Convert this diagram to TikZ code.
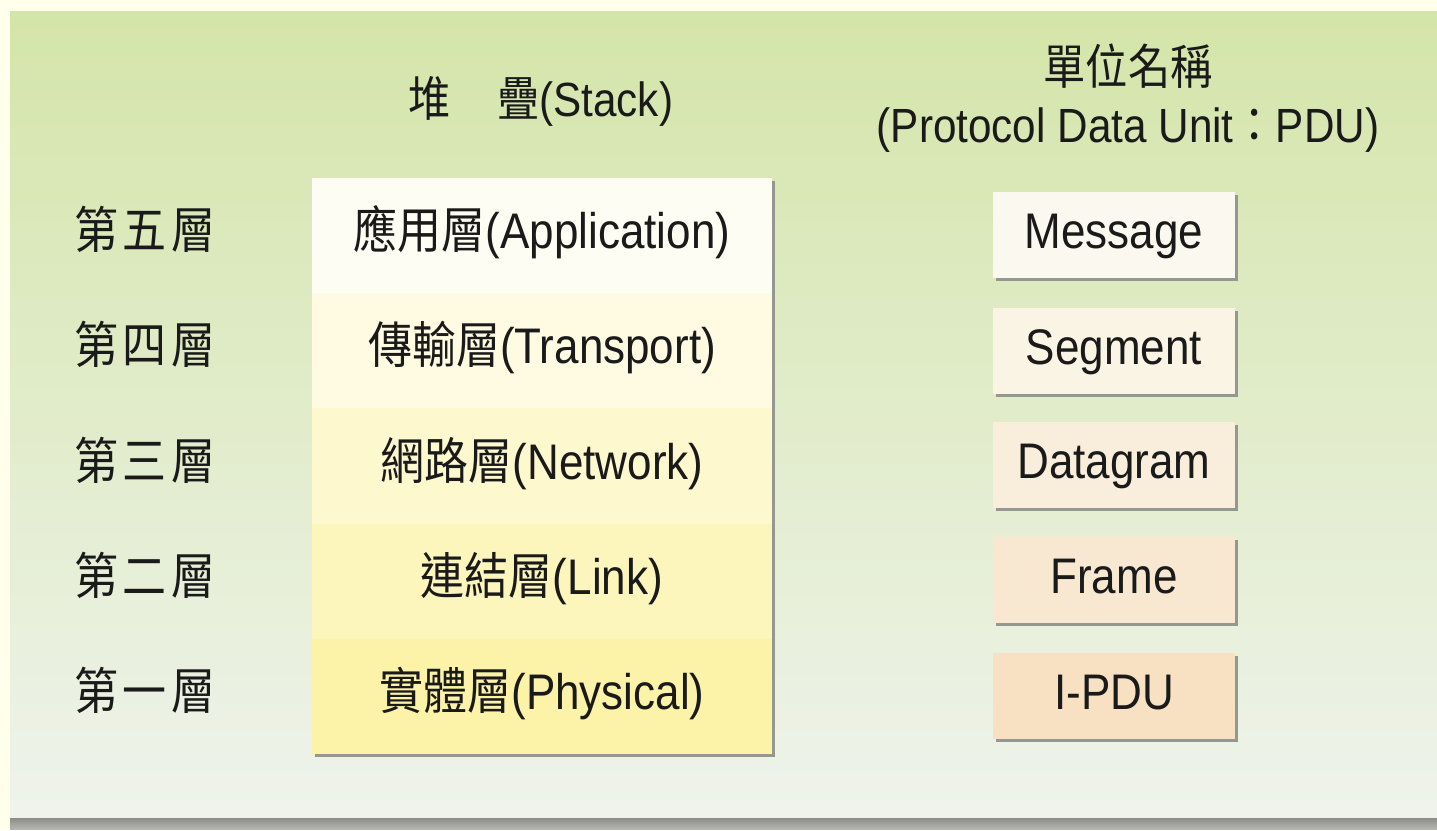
\documentclass[tikz,border=0pt]{standalone}
\usepackage{fontspec}
\setmainfont{Liberation Sans}[FakeStretch=0.88]
\newfontfamily\cjk{Noto Sans CJK TC}[FakeStretch=0.88]
\usetikzlibrary{shadows}
\newcommand\myBody{\fontsize{50}{60}\selectfont}
\newcommand\myTitle{\fontsize{48}{58}\selectfont}
\definecolor{cream}{HTML}{FFFFEC}
\definecolor{panelTop}{HTML}{D4E5A9}
\definecolor{panelBot}{HTML}{EFF3EC}
\definecolor{shadowA}{HTML}{858585}
\definecolor{shadowB}{HTML}{B5B5B0}
\definecolor{txt}{HTML}{1A1A1A}
\definecolor{boxshadow}{HTML}{959890}
\definecolor{rowA}{HTML}{FEFDF3}
\definecolor{rowB}{HTML}{FEFBE2}
\definecolor{rowC}{HTML}{FEF8CF}
\definecolor{rowD}{HTML}{FDF6BC}
\definecolor{rowE}{HTML}{FCF3A8}
\definecolor{pduA}{HTML}{FBF9EF}
\definecolor{pduB}{HTML}{FAF4E4}
\definecolor{pduC}{HTML}{F9EEDC}
\definecolor{pduD}{HTML}{F8E8D1}
\definecolor{pduE}{HTML}{F8E0C3}
\tikzset{
  textbase/.style={inner sep=0pt, text height=36pt, text depth=10pt, text=txt, font=\myBody},
  layerrow/.style={textbase, minimum width=460pt, minimum height=115.2pt,
    drop shadow={shadow xshift=3pt, shadow yshift=-3pt, fill=boxshadow, opacity=1}},
  pdubox/.style={textbase, minimum width=242pt, minimum height=86pt,
    drop shadow={shadow xshift=3pt, shadow yshift=-3pt, fill=boxshadow, opacity=1}},
  lvllabel/.style={textbase},
  titletext/.style={inner sep=0pt, anchor=base, text=txt, font=\myTitle},
}
\begin{document}
\begin{tikzpicture}[x=1pt,y=-1pt]
\useasboundingbox (0,0) rectangle (1437,830);
\fill[cream] (0,0) rectangle (1437,830);
\shade[top color=shadowA, bottom color=shadowB] (10,816) rectangle (1437,829);
\shade[top color=panelTop, bottom color=panelBot] (10,11) rectangle (1437,817);

% titles
\node[titletext] (stacktitle) at (541,116) {{\cjk 堆}\hspace{46pt}{\cjk 疊}(Stack)};
\node[titletext] (pdutitleA) at (1128,84) {\cjk 單位名稱};
\node[titletext] (pdutitleB) at (1128,142) {(Protocol Data Unit{\cjk ：}PDU)};

% stack rows
\node[layerrow, fill=rowA] (app) at (542,235.6) {{\cjk 應用層}(Application)};
\node[layerrow, fill=rowB] (trn) at (542,350.8) {{\cjk 傳輸層}(Transport)};
\node[layerrow, fill=rowC] (net) at (542,466.0) {{\cjk 網路層}(Network)};
\node[layerrow, fill=rowD] (lnk) at (542,581.2) {{\cjk 連結層}(Link)};
\node[layerrow, fill=rowE] (phy) at (542,696.4) {{\cjk 實體層}(Physical)};

% level labels
\node[lvllabel] (l5) at (145,235.6) {\cjk 第\hspace{5pt}五\hspace{5pt}層};
\node[lvllabel] (l4) at (145,350.8) {\cjk 第\hspace{5pt}四\hspace{5pt}層};
\node[lvllabel] (l3) at (145,466.0) {\cjk 第\hspace{5pt}三\hspace{5pt}層};
\node[lvllabel] (l2) at (145,581.2) {\cjk 第\hspace{5pt}二\hspace{5pt}層};
\node[lvllabel] (l1) at (145,696.4) {\cjk 第\hspace{5pt}一\hspace{5pt}層};

% PDU boxes
\node[pdubox, fill=pduA] (msg) at (1114,235) {Message};
\node[pdubox, fill=pduB] (seg) at (1114,351) {Segment};
\node[pdubox, fill=pduC] (dgm) at (1114,465) {Datagram};
\node[pdubox, fill=pduD] (frm) at (1114,580) {Frame};
\node[pdubox, fill=pduE] (ipdu) at (1114,696) {I-PDU};
\end{tikzpicture}
\end{document}
